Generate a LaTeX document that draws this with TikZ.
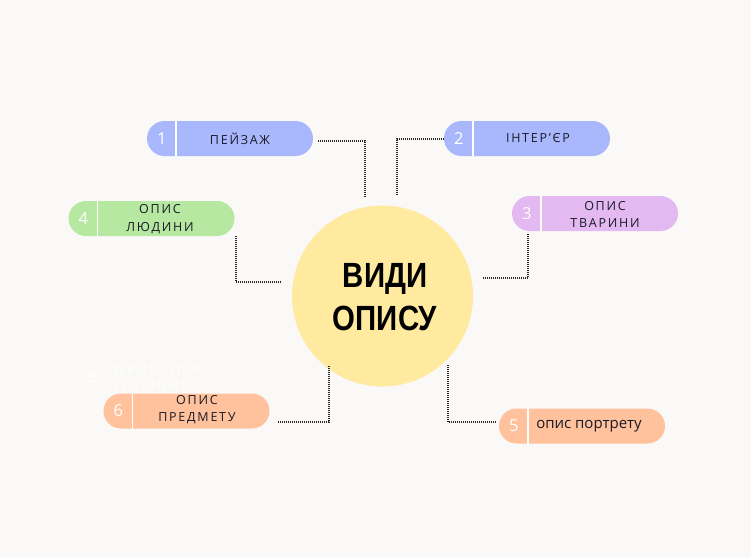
\documentclass[tikz,border=0pt]{standalone}
\usepackage{fontspec}
\setmainfont{Open Sans}
\newfontfamily\labfont[LetterSpace=14]{Open Sans}
\newfontfamily\titlefont[FakeStretch=0.84]{Liberation Sans}
\definecolor{bg}{HTML}{FAF9F7}
\definecolor{pblue}{HTML}{A9B8FC}
\definecolor{pgreen}{HTML}{B6E8A1}
\definecolor{ppurple}{HTML}{E4B9F2}
\definecolor{porange}{HTML}{FFC29C}
\definecolor{pyellow}{HTML}{FFEA9F}
\definecolor{ink}{HTML}{1A1A28}
\tikzset{
  pill/.style={draw=none, minimum width=166pt, minimum height=35pt, rounded corners=17.5pt, inner sep=0pt},
  divider/.style={white, line width=1.5pt},
  numtxt/.style={text=white, font=\fontsize{16.5}{18}\selectfont, inner sep=0pt},
  labtxt/.style={text=ink, font=\labfont\fontsize{12.5}{17.5}\selectfont, align=center, inner sep=0pt},
  dotline/.style={draw=black!85, line width=1.6pt, dash pattern=on 1pt off 1pt},
  ghost/.style={text=white, inner sep=0pt}
}
\begin{document}
\begin{tikzpicture}[x=1pt,y=-1pt]
\useasboundingbox (0,0) rectangle (751,557);
\fill[bg] (0,0) rectangle (751,557);

% centre circle
\node[circle, fill=pyellow, minimum size=181pt, inner sep=0pt] (hub) at (382.5,296) {};
\node[text=black, font=\titlefont\bfseries\fontsize{35}{43}\selectfont, align=center, inner sep=0pt] (title) at (385,297) {ВИДИ\\ОПИСУ};

% pill 1
\node[pill, fill=pblue] (p1) at (230,138.5) {};
\draw[divider] ([xshift=29pt]p1.north west) -- ([xshift=29pt]p1.south west);
\node[numtxt] (n1) at ([xshift=15pt]p1.west) {1};
\node[labtxt] (l1) at ([xshift=10pt]p1.center) {ПЕЙЗАЖ};

% pill 2
\node[pill, fill=pblue] (p2) at (527,138.5) {};
\draw[divider] ([xshift=29pt]p2.north west) -- ([xshift=29pt]p2.south west);
\node[numtxt] (n2) at ([xshift=15pt]p2.west) {2};
\node[labtxt] (l2) at ([xshift=11pt]p2.center) {ІНТЕР’ЄР};

% pill 3
\node[pill, fill=ppurple] (p3) at (595,213.5) {};
\draw[divider] ([xshift=29pt]p3.north west) -- ([xshift=29pt]p3.south west);
\node[numtxt] (n3) at ([xshift=15pt]p3.west) {3};
\node[labtxt] (l3) at ([xshift=10pt,yshift=-1pt]p3.center) {ОПИС\\ТВАРИНИ};

% pill 4
\node[pill, fill=pgreen] (p4) at (151.5,218.5) {};
\draw[divider] ([xshift=29pt]p4.north west) -- ([xshift=29pt]p4.south west);
\node[numtxt] (n4) at ([xshift=15pt]p4.west) {4};
\node[labtxt] (l4) at ([xshift=8.5pt,yshift=-0.5pt]p4.center) {ОПИС\\ЛЮДИНИ};

% pill 5
\node[pill, fill=porange] (p5) at (582,426) {};
\draw[divider] ([xshift=29pt]p5.north west) -- ([xshift=29pt]p5.south west);
\node[numtxt] (n5) at ([xshift=15pt]p5.west) {5};
\node[text=ink, font=\fontsize{15}{18}\selectfont, inner sep=0pt] (l5) at ([xshift=7pt]p5.center) {опис портрету};

% pill 6
\node[pill, fill=porange] (p6) at (186.5,411) {};
\draw[divider] ([xshift=29pt]p6.north west) -- ([xshift=29pt]p6.south west);
\node[numtxt] (n6) at ([xshift=15pt]p6.west) {6};
\node[labtxt] (l6) at ([xshift=10.5pt,yshift=1.5pt]p6.center) {ОПИС\\ПРЕДМЕТУ};

% faint placeholder
\node[ghost, font=\fontsize{17}{18}\selectfont] (n8) at (93,376) {8};
\node[ghost, font=\labfont\fontsize{12.5}{15}\selectfont, align=left, anchor=west] (l8) at (113,377.5) {WRITE YOUR\\TEXT HERE};

% connector end points
\coordinate (a1) at (318,141);
\coordinate (b1) at (365,197);
\coordinate (a2) at (444,139);
\coordinate (b2) at (397,195);
\coordinate (a3) at (528,234);
\coordinate (b3) at (483,278);
\coordinate (a4) at (236,236);
\coordinate (b4) at (281,282);
\coordinate (a5) at (496,422);
\coordinate (b5) at (448,365);
\coordinate (a6) at (278,422);
\coordinate (b6) at (329,365);

\draw[dotline] (a1) -| (b1);
\draw[dotline] (a2) -| (b2);
\draw[dotline] (a3) |- (b3);
\draw[dotline] (a4) |- (b4);
\draw[dotline] (a5) -| (b5);
\draw[dotline] (a6) -| (b6);
\end{tikzpicture}
\end{document}
